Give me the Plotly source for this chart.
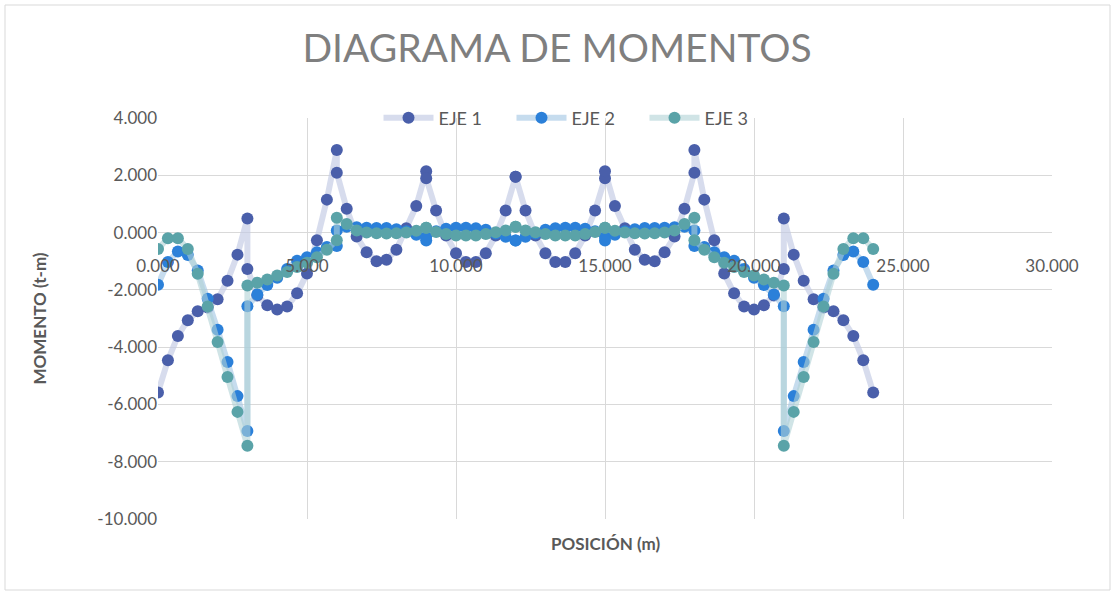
import plotly.graph_objects as go

# Stations (m): 8 spans of 3 m, 10 stations per span (support stations repeated)
posicion = [
    0.000, 0.333, 0.667, 1.000, 1.333, 1.667, 2.000, 2.333, 2.667, 3.000,
    3.000, 3.333, 3.667, 4.000, 4.333, 4.667, 5.000, 5.333, 5.667, 6.000,
    6.000, 6.333, 6.667, 7.000, 7.333, 7.667, 8.000, 8.333, 8.667, 9.000,
    9.000, 9.333, 9.667, 10.000, 10.333, 10.667, 11.000, 11.333, 11.667, 12.000,
    12.000, 12.333, 12.667, 13.000, 13.333, 13.667, 14.000, 14.333, 14.667, 15.000,
    15.000, 15.333, 15.667, 16.000, 16.333, 16.667, 17.000, 17.333, 17.667, 18.000,
    18.000, 18.333, 18.667, 19.000, 19.333, 19.667, 20.000, 20.333, 20.667, 21.000,
    21.000, 21.333, 21.667, 22.000, 22.333, 22.667, 23.000, 23.333, 23.667, 24.000,
]

eje1 = [
    -5.58, -4.46, -3.61, -3.06, -2.75, -2.62, -2.33, -1.68, -0.77, 0.49,
    -1.27, -2.20, -2.54, -2.69, -2.58, -2.12, -1.43, -0.27, 1.15, 2.88,
    2.09, 0.83, -0.14, -0.69, -1.00, -0.95, -0.60, 0.15, 0.93, 2.14,
    1.90, 0.77, -0.10, -0.72, -1.03, -1.03, -0.72, -0.10, 0.77, 1.95,
    1.95, 0.77, -0.10, -0.72, -1.03, -1.03, -0.72, -0.10, 0.77, 1.90,
    2.14, 0.93, 0.15, -0.60, -0.95, -1.00, -0.69, -0.14, 0.83, 2.09,
    2.88, 1.15, -0.27, -1.43, -2.12, -2.58, -2.69, -2.54, -2.20, -1.27,
    0.49, -0.77, -1.68, -2.33, -2.62, -2.75, -3.06, -3.61, -4.46, -5.58,
]

eje2 = [
    -1.82, -1.03, -0.66, -0.78, -1.32, -2.31, -3.39, -4.52, -5.71, -6.93,
    -2.57, -2.16, -1.83, -1.58, -1.27, -0.98, -0.86, -0.69, -0.50, -0.47,
    0.07, 0.20, 0.19, 0.17, 0.16, 0.16, 0.12, 0.05, -0.08, -0.28,
    -0.15, 0.05, 0.13, 0.17, 0.17, 0.15, 0.10, -0.03, -0.15, -0.28,
    -0.28, -0.15, -0.03, 0.10, 0.15, 0.17, 0.17, 0.13, 0.05, -0.15,
    -0.28, -0.08, 0.05, 0.12, 0.16, 0.16, 0.17, 0.19, 0.20, 0.07,
    -0.47, -0.50, -0.69, -0.86, -0.98, -1.27, -1.58, -1.83, -2.16, -2.57,
    -6.93, -5.71, -4.52, -3.39, -2.31, -1.32, -0.78, -0.66, -1.03, -1.82,
]

eje3 = [
    -0.57, -0.20, -0.20, -0.57, -1.44, -2.58, -3.82, -5.04, -6.26, -7.44,
    -1.85, -1.75, -1.64, -1.50, -1.38, -1.20, -1.05, -0.86, -0.60, -0.27,
    0.52, 0.30, 0.07, 0.00, -0.02, -0.03, -0.02, 0.00, 0.06, 0.17,
    0.17, 0.02, -0.05, -0.10, -0.10, -0.10, -0.05, 0.01, 0.07, 0.20,
    0.20, 0.07, 0.01, -0.05, -0.10, -0.10, -0.10, -0.05, 0.02, 0.17,
    0.17, 0.06, 0.00, -0.02, -0.03, -0.02, 0.00, 0.07, 0.30, 0.52,
    -0.27, -0.60, -0.86, -1.05, -1.20, -1.38, -1.50, -1.64, -1.75, -1.85,
    -7.44, -6.26, -5.04, -3.82, -2.58, -1.44, -0.57, -0.20, -0.20, -0.57,
]

x_ticks = [0, 5, 10, 15, 20, 25, 30]
y_ticks = [4, 2, 0, -2, -4, -6, -8, -10]

FONT = "Lato, Carlito, 'Liberation Sans', sans-serif"
GRAY = "#595959"

series = [
    ("EJE 1", eje1, "#4A5FAA", "rgba(194,202,228,0.65)"),
    ("EJE 2", eje2, "#2B80D9", "rgba(160,196,226,0.6)"),
    ("EJE 3", eje3, "#5AA3A8", "rgba(176,210,214,0.6)"),
]

fig = go.Figure()
for name, vals, mcol, lcol in series:
    fig.add_trace(go.Scatter(
        x=posicion, y=vals, name=name, mode="lines+markers",
        line=dict(color=lcol, width=6),
        marker=dict(color=mcol, size=12, line=dict(width=0)),
    ))

# plot area in page pixels: x 158..1052, y 118..519
L, T, PW, PH = 158, 118, 894, 401
fig.update_layout(
    width=1115, height=595,
    paper_bgcolor="white", plot_bgcolor="white",
    margin=dict(l=L, r=1115 - L - PW, t=T, b=595 - T - PH, autoexpand=False),
    font=dict(family=FONT, color=GRAY, size=17),
    title=dict(text="DIAGRAMA DE MOMENTOS", x=557 / 1115, xanchor="center",
               y=1 - 48 / 595, yanchor="middle",
               font=dict(family=FONT, size=39, color="#7F7F7F")),
    showlegend=True,
    legend=dict(orientation="h", x=(578 - L) / PW, xanchor="center",
                y=1.0, yanchor="middle",
                bgcolor="rgba(0,0,0,0)", font=dict(size=18, color=GRAY),
                itemwidth=50, entrywidth=68, traceorder="normal"),
    xaxis=dict(range=[0, 30], tickvals=x_ticks,
               ticktext=[f"{v:.3f}" for v in x_ticks],
               showgrid=True, gridcolor="#D9D9D9", gridwidth=1.3,
               zeroline=False, showline=False, ticks="",
               anchor="free", position=0.66,
               tickfont=dict(size=17, color=GRAY)),
    yaxis=dict(range=[-10, 4], tickvals=y_ticks,
               ticktext=[f"{v:.3f}" for v in y_ticks],
               showgrid=True, gridcolor="#D9D9D9", gridwidth=1.3,
               zeroline=False, showline=False, ticks="",
               tickfont=dict(size=17, color=GRAY)),
    annotations=[
        dict(text="<b>POSICIÓN (m)</b>", xref="paper", yref="paper",
             x=0.5, y=-0.06, xanchor="center", yanchor="middle",
             showarrow=False, font=dict(size=17, color=GRAY)),
        dict(text="<b>MOMENTO (t-m)</b>", xref="paper", yref="paper",
             x=-0.132, y=0.5, xanchor="center", yanchor="middle", textangle=-90,
             showarrow=False, font=dict(size=17, color=GRAY)),
    ],
    shapes=[
        dict(type="rect", xref="paper", yref="paper",
             x0=(5 - L) / PW, x1=(1110 - L) / PW,
             y0=(T + PH - 590) / PH, y1=(T + PH - 5) / PH,
             line=dict(color="#D9D9D9", width=1), layer="below"),
    ],
)

fig.write_html("out.html", config={"displayModeBar": False},
               post_script="document.body.style.margin='0px';")
